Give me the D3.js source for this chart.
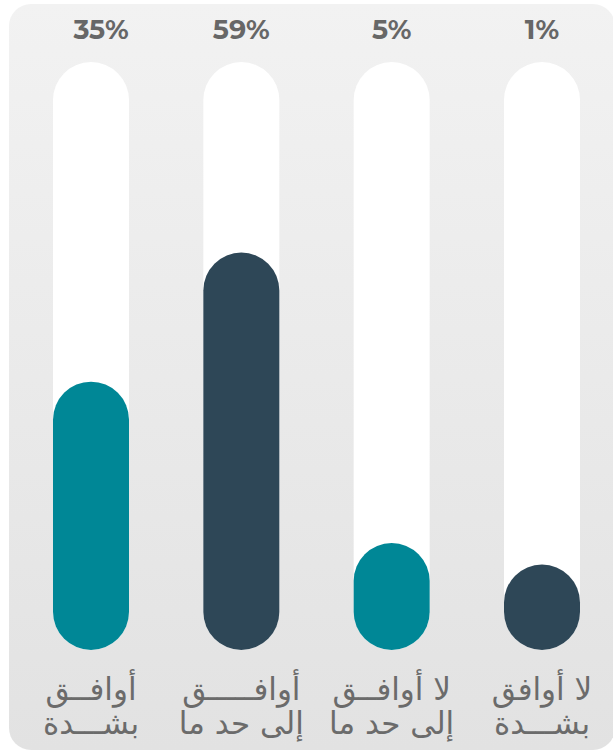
<!DOCTYPE html>
<html>
<head>
<meta charset="utf-8">
<script src="https://cdn.jsdelivr.net/npm/d3@7"></script>
<style>
  html, body { margin: 0; padding: 0; background: #fff; }
  svg { display: block; }
</style>
</head>
<body>
<div id="chart"></div>
<script>
// answers, left to right as they appear
let categories = ["a", "b", "c", "d"],
    values = [35, 59, 5, 1],
    line1 = ["أوافــق", "أوافـــــق", "لا أوافــق", "لا أوافق"],
    line2 = ["بشـــدة", "إلى حد ما", "إلى حد ما", "بشـــدة"],
    fills = ["#008796", "#2e4757", "#008796", "#2e4757"];

let width = 613, height = 751,
    trackTop = 62, trackBottom = 650, barW = 76,
    minH = 80;

let x = d3.scalePoint()
    .domain(categories)
    .range([91, 542]);

// pill keeps a round cap even at tiny values, so height = minH + scaled value
let y = d3.scaleLinear()
    .domain([0, 100])
    .range([trackBottom - minH, trackBottom - minH - 538]);

let svg = d3.select("#chart").append("svg")
    .attr("width", width)
    .attr("height", height);

let grad = svg.append("defs").append("linearGradient")
    .attr("id", "bg").attr("x1", 0).attr("y1", 0).attr("x2", 0).attr("y2", 1);
grad.append("stop").attr("offset", "0%").attr("stop-color", "#f2f2f2");
grad.append("stop").attr("offset", "100%").attr("stop-color", "#e2e2e2");

svg.append("rect")
    .attr("x", 9).attr("y", 4)
    .attr("width", 606).attr("height", 746)
    .attr("rx", 22)
    .attr("fill", "url(#bg)");

// white tracks
svg.append("g")
    .selectAll("rect")
    .data(categories)
    .join("rect")
        .attr("x", d => x(d) - barW / 2)
        .attr("y", trackTop)
        .attr("width", barW)
        .attr("height", trackBottom - trackTop)
        .attr("rx", barW / 2)
        .attr("fill", "#fff");

// filled pills
svg.append("g")
    .selectAll("rect")
    .data(values)
    .join("rect")
        .attr("x", (d, i) => x(categories[i]) - barW / 2)
        .attr("y", d => y(d))
        .attr("width", barW)
        .attr("height", d => trackBottom - y(d))
        .attr("rx", barW / 2)
        .attr("fill", (d, i) => fills[i]);

// percentages on top
svg.append("g")
    .selectAll("text")
    .data(values)
    .join("text")
        .attr("x", (d, i) => x(categories[i]) + (i == 0 ? 10 : 0))
        .attr("y", 39)
        .attr("text-anchor", "middle")
        .attr("font-family", "Montserrat, 'Open Sans', sans-serif")
        .attr("font-weight", "bold")
        .attr("font-size", 27)
        .attr("fill", "#676767")
        .text(d => d + "%");

// arabic labels below
let lab = svg.append("g")
    .attr("font-family", "'DejaVu Sans', sans-serif")
    .attr("font-size", 31)
    .attr("fill", "#6b6b6b")
    .attr("text-anchor", "middle");

lab.selectAll("text.l1")
    .data(line1)
    .join("text")
        .attr("class", "l1")
        .attr("direction", "rtl")
        .attr("x", (d, i) => x(categories[i]))
        .attr("y", 700)
        .text(d => d);

lab.selectAll("text.l2")
    .data(line2)
    .join("text")
        .attr("class", "l2")
        .attr("direction", "rtl")
        .attr("x", (d, i) => x(categories[i]))
        .attr("y", 734)
        .text(d => d);
</script>
</body>
</html>
